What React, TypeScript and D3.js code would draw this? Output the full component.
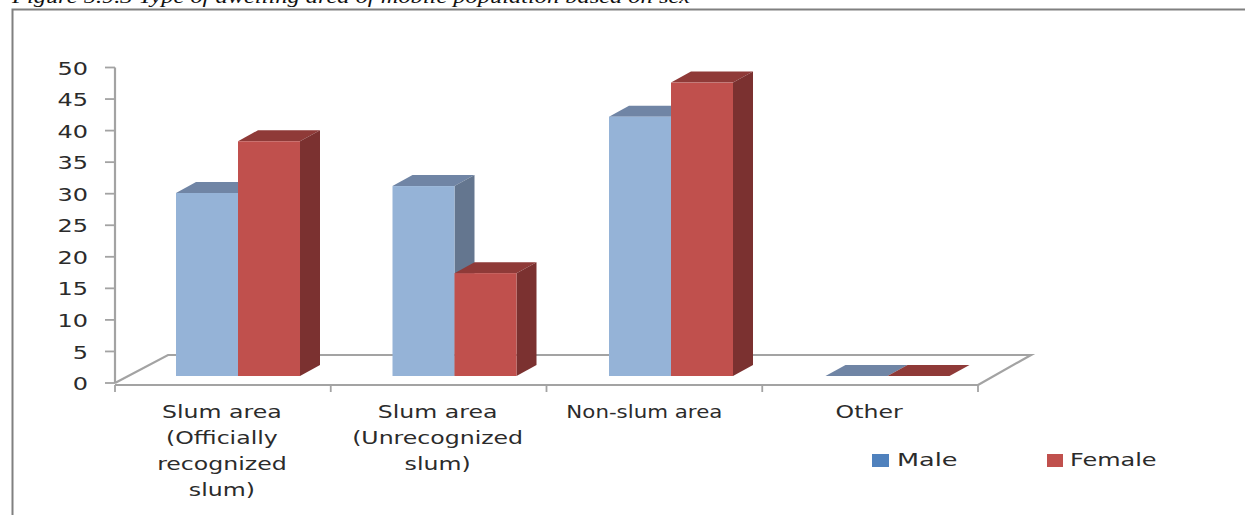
import * as d3 from "d3";

const categories = [
  ["Slum area", "(Officially", "recognized", "slum)"],
  ["Slum area", "(Unrecognized", "slum)"],
  ["Non-slum area"],
  ["Other"],
];
const maleValues = [29, 30.1, 41.1, 0];
const femaleValues = [37.2, 16.3, 46.5, 0];
const yTicks = [0, 5, 10, 15, 20, 25, 30, 35, 40, 45, 50];
const seriesNames = ["Male", "Female"];
const title = "Figure 5.9.3 Type of dwelling area of mobile population based on sex";

const width = 1245;
const height = 515;
const font = "'DejaVu Sans', sans-serif";
// the reference is stretched sideways, text is wider than it is tall
const stretch = 1.37;

const y = d3.scaleLinear().domain([0, 50]).range([383, 67.5]);
const x = d3.scaleBand<number>().domain([0, 1, 2, 3]).range([115, 978]);
const xBars = d3.scaleBand<number>().domain([0, 1, 2, 3]).range([115, 981]);

// oblique offsets of the 3d look
const floorDx = 53;
const floorDy = -28;
const barDx = 20;
const barDy = -11;
const barLift = -7;
const barShift = 14.75;
const barW = 62;

const colors = {
  Male: { front: "#95b3d7", top: "#7085a5", side: "#64768f" },
  Female: { front: "#c0504d", top: "#8f3a38", side: "#7b3130" },
};

function Bar({ left, value, c }: { left: number; value: number; c: typeof colors.Male }) {
  const base = y(0) + barLift;
  const top = y(value) + barLift;
  const right = left + barW;
  const poly = (pts: [number, number][]) => d3.line()(pts) + "Z";
  return (
    <g>
      <path
        d={poly([[left, top], [left + barDx, top + barDy], [right + barDx, top + barDy], [right, top]])}
        fill={c.top}
      />
      <path
        d={poly([[right, top], [right + barDx, top + barDy], [right + barDx, base + barDy], [right, base]])}
        fill={c.side}
      />
      <rect x={left} y={top} width={barW} height={base - top} fill={c.front} />
    </g>
  );
}

export default function App() {
  const axisColor = "#a3a3a3";
  const textColor = "#2b2b2b";
  return (
    <svg
      width={width}
      height={height}
      style={{ position: "absolute", left: 0, top: 0, background: "#fff" }}
    >
      <text
        transform={`translate(12,3) scale(1.286,1)`}
        fontFamily="'Liberation Serif', serif"
        fontStyle="italic"
        fontSize={19}
        fill="#111"
      >
        {title}
      </text>
      <path d={`M12.5,${height}V9.5H${width}`} fill="none" stroke="#808080" strokeWidth={2} />

      {/* floor */}
      <path
        d={`M${x.range()[0]},${y(0)}L${x.range()[0] + floorDx},${y(0) + floorDy}H${x.range()[1] + floorDx}L${x.range()[1]},${y(0) + 2}`}
        fill="none"
        stroke={axisColor}
        strokeWidth={2.2}
      />
      <line x1={115} x2={115} y1={y(50)} y2={y(0)} stroke={axisColor} strokeWidth={2.2} />
      <line x1={115} x2={978} y1={385} y2={385} stroke={axisColor} strokeWidth={2.2} />

      {yTicks.map((t) => (
        <g key={t}>
          <line x1={105} x2={115} y1={y(t)} y2={y(t)} stroke={axisColor} strokeWidth={1.8} />
          <text
            transform={`translate(88,${y(t) + 0.8}) scale(${stretch},1)`}
            dy="0.36em"
            textAnchor="end"
            fontFamily={font}
            fontSize={17.5}
            fill={textColor}
          >
            {t}
          </text>
        </g>
      ))}
      {[...x.domain(), 4].map((i) => {
        const tx = i < 4 ? (x(i) as number) : x.range()[1];
        return <line key={i} x1={tx} x2={tx} y1={385} y2={392} stroke={axisColor} strokeWidth={1.8} />;
      })}

      {xBars.domain().map((i) => {
        const center = (xBars(i) as number) + xBars.bandwidth() / 2 + barShift;
        return (
          <g key={i}>
            <Bar left={center - barW} value={maleValues[i]} c={colors.Male} />
            <Bar left={center} value={femaleValues[i]} c={colors.Female} />
          </g>
        );
      })}

      {categories.map((lines, i) => {
        // the non-slum label sits left of its band and runs narrower in the reference
        const isNonSlum = i === 2;
        const cx = (x(i) as number) + x.bandwidth() / 2 + (isNonSlum ? -10 : -1);
        const sx = isNonSlum ? 1.22 : 1.35;
        return (
          <text
            key={i}
            transform={`translate(${cx},0) scale(${sx},1)`}
            textAnchor="middle"
            fontFamily={font}
            fontSize={17.5}
            fill={textColor}
          >
            {lines.map((l, j) => (
              <tspan key={j} x={0} y={418 + j * 26}>
                {l}
              </tspan>
            ))}
          </text>
        );
      })}

      <rect x={872} y={454} width={17} height={13} fill="#4f81bd" />
      <text
        transform={`translate(897,466) scale(1.46,1)`}
        fontFamily={font}
        fontSize={17.5}
        fill={textColor}
      >
        {seriesNames[0]}
      </text>
      <rect x={1047} y={454} width={16} height={13} fill="#c0504d" />
      <text
        transform={`translate(1070,466) scale(${stretch},1)`}
        fontFamily={font}
        fontSize={17.5}
        fill={textColor}
      >
        {seriesNames[1]}
      </text>
    </svg>
  );
}
